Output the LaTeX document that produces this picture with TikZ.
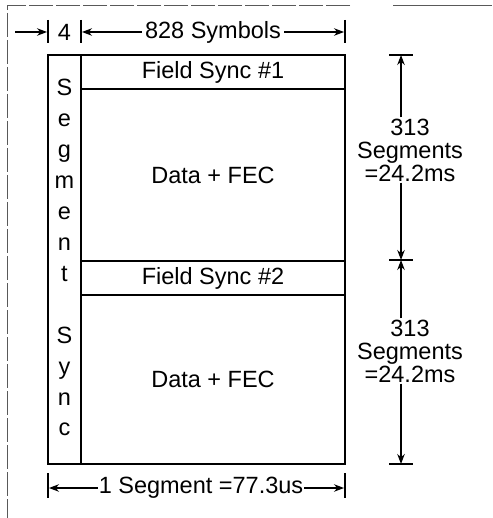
\documentclass[tikz,border=0pt]{standalone}
\usepackage{fontspec}
\setmainfont{Liberation Sans}
\usetikzlibrary{arrows.meta}
\begin{document}
\begin{tikzpicture}[x=1pt,y=-1pt,
  lab/.style={font=\fontsize{23.5}{23}\selectfont, inner sep=1pt},
  dimlab/.style={lab, inner xsep=3pt},
  box/.style={draw, line width=1.2pt, rectangle, inner sep=0pt},
  tick/.style={line width=1.2pt},
  arr/.style={line width=1.1pt, -{Stealth[length=10pt,width=7.5pt]}},
  frame/.style={line width=0.8pt, black!65, dash pattern=on 24pt off 3pt}]
\useasboundingbox (0,0) rectangle (492,518);
% frame
\coordinate (f0) at (7,5);
\coordinate (f1) at (350,5);
\coordinate (f2) at (393,5);
\coordinate (f3) at (492,5);
\coordinate (f4) at (7,518);
\draw[frame] (f1) -- (f0) -- (f4);
\draw[line width=0.8pt, black!65] (f2) -- (f3);
% boxes
\node[box, minimum width=33pt, minimum height=409pt] (sync) at (64.5,259.5) {};
\node[box, minimum width=264pt, minimum height=34pt, lab] (fs1) at (213,72) {Field Sync \#1};
\node[box, minimum width=264pt, minimum height=172pt, lab] (d1) at (213,175) {Data + FEC};
\node[box, minimum width=264pt, minimum height=34pt, lab] (fs2) at (213,278) {Field Sync \#2};
\node[box, minimum width=264pt, minimum height=169pt, lab] (d2) at (213,379.5) {Data + FEC};
% segment sync letters
\foreach \ch [count=\i] in {S,e,g,m,e,n,t,{},S,y,n,c}
  \node[lab, anchor=base] (ss\i) at (64.5, 96+30.9*\i-30.9) {\ch};
% top dimension
\coordinate (ta0) at (15,32);
\coordinate (tt1a) at (48,20); \coordinate (tt1b) at (48,43);
\coordinate (tt2a) at (81,20); \coordinate (tt2b) at (81,43);
\coordinate (tt3a) at (345,20); \coordinate (tt3b) at (345,43);
\coordinate (tp1) at (47,32);
\coordinate (tp2) at (82,32);
\coordinate (tp3) at (344,32);
\draw[tick] (tt1a) -- (tt1b);
\draw[tick] (tt2a) -- (tt2b);
\draw[tick] (tt3a) -- (tt3b);
\draw[arr] (ta0) -- (tp1);
\node[lab] (four) at (64.5,32) {4};
\node[dimlab] (sym) at (213,32) {828 Symbols};
\draw[arr] (sym.west) -- (tp2);
\draw[arr] (sym.east) -- (tp3);
% bottom dimension
\coordinate (bt1a) at (48,473); \coordinate (bt1b) at (48,498);
\coordinate (bt2a) at (345,473); \coordinate (bt2b) at (345,498);
\coordinate (bp1) at (49,488);
\coordinate (bp2) at (344,488);
\draw[tick] (bt1a) -- (bt1b);
\draw[tick] (bt2a) -- (bt2b);
\node[lab] (seg) at (201,488) {1 Segment =77.3us};
\draw[arr] (seg.west) -- (bp1);
\draw[arr] (seg.east) -- (bp2);
% right dimension
\coordinate (r1) at (401,55); \coordinate (r1a) at (389,55); \coordinate (r1b) at (413,55);
\coordinate (r2) at (401,260); \coordinate (r2a) at (389,260); \coordinate (r2b) at (413,260);
\coordinate (r3) at (401,464); \coordinate (r3a) at (389,464); \coordinate (r3b) at (413,464);
\draw[tick] (r1a) -- (r1b);
\draw[tick] (r2a) -- (r2b);
\draw[tick] (r3a) -- (r3b);
\node[lab, align=center] (m1) at (410,150) {313\\Segments\\=24.2ms};
\node[lab, align=center] (m2) at (410,351) {313\\Segments\\=24.2ms};
\draw[arr] (m1.north -| r1) -- (r1);
\draw[arr] (m1.south -| r1) -- (r2);
\draw[arr] (m2.north -| r2) -- (r2);
\draw[arr] (m2.south -| r3) -- (r3);
\end{tikzpicture}
\end{document}
